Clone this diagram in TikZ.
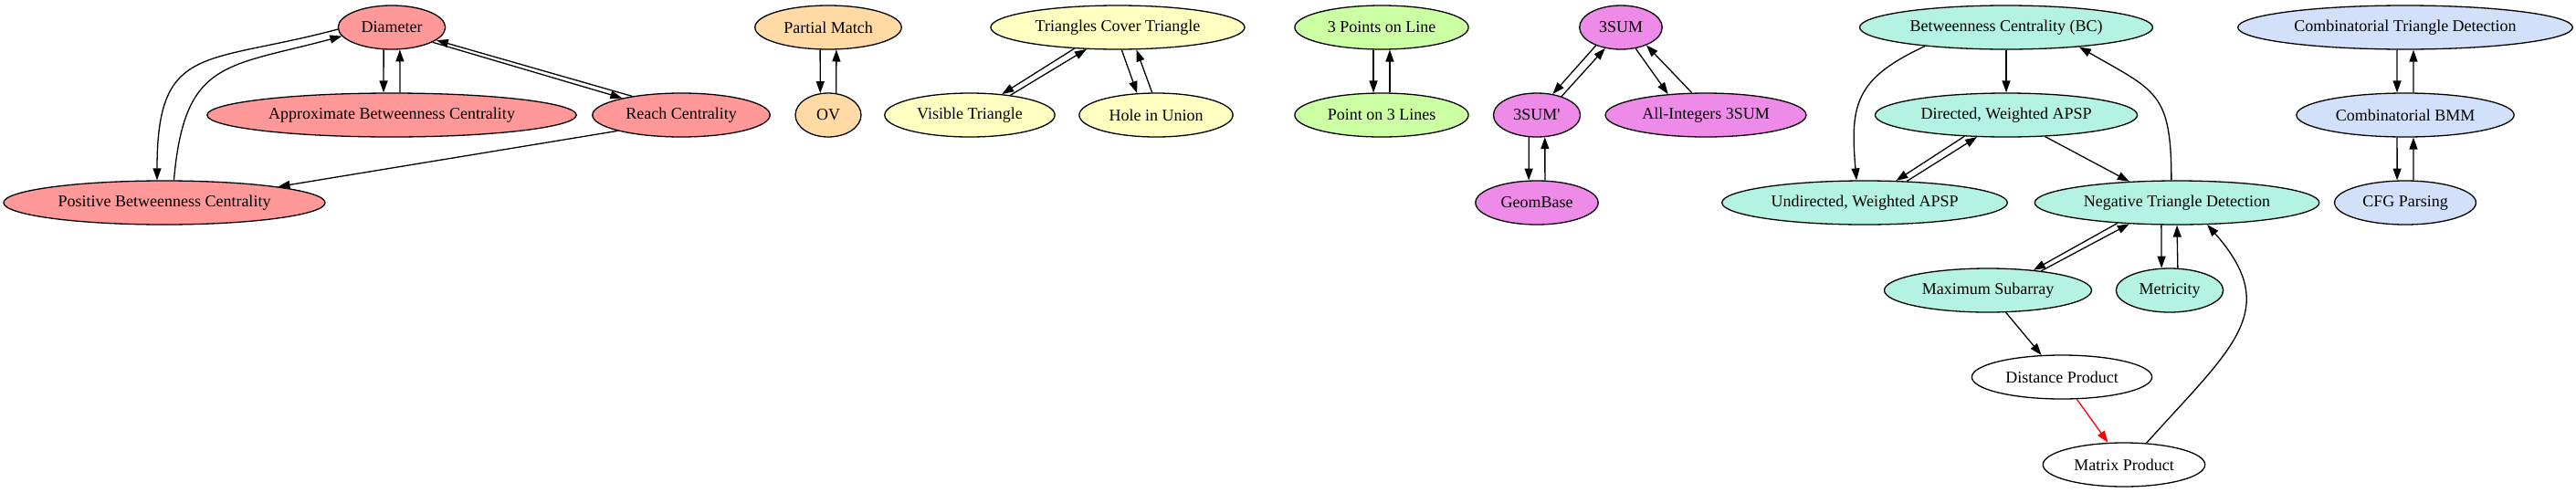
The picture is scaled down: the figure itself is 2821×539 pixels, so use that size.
\documentclass[tikz,border=0pt]{standalone}
\usepackage{fontspec}
\setmainfont{Liberation Serif}
\usetikzlibrary{shapes.geometric,arrows.meta}

\definecolor{diamcol}{HTML}{FF9999}
\definecolor{ovcol}{HTML}{FFDAA5}
\definecolor{tricol}{HTML}{FFFFC2}
\definecolor{linecol}{HTML}{CCFFA3}
\definecolor{sumcol}{HTML}{EE8AE8}
\definecolor{apspcol}{HTML}{B4F2E1}
\definecolor{bmmcol}{HTML}{D2E0FA}

\tikzset{
  prob/.style={ellipse, draw, line width=1.3pt, minimum width=72pt, minimum height=48pt,
    inner xsep=8pt, inner ysep=3pt, font=\fontsize{18}{20}\selectfont},
  diamnode/.style={prob, fill=diamcol},
  ovnode/.style={prob, fill=ovcol},
  trinode/.style={prob, fill=tricol},
  linenode/.style={prob, fill=linecol},
  sumnode/.style={prob, fill=sumcol},
  apspnode/.style={prob, fill=apspcol},
  bmmnode/.style={prob, fill=bmmcol},
  plainnode/.style={prob, fill=white},
  arr/.style={-{Triangle[length=13pt,width=9pt]}, line width=1.3pt},
  redarr/.style={arr, draw=red}
}

\begin{document}
\begin{tikzpicture}[x=1pt,y=-1pt]
\useasboundingbox (0,0) rectangle (2821,539);

%NODES
% diameter group
\node[diamnode] (diam) at (429,30) {Diameter};
\node[diamnode] (abc) at (429,126) {Approximate Betweenness Centrality};
\node[diamnode] (reach) at (746,126) {Reach Centrality};
\node[diamnode] (pbc) at (180,222) {Positive Betweenness Centrality};
% OV group
\node[ovnode] (pm) at (907,30) {Partial Match};
\node[ovnode] (ov) at (907,126) {OV};
% triangles
\node[trinode] (tct) at (1224,30) {Triangles Cover Triangle};
\node[trinode] (vt) at (1062,126) {Visible Triangle};
\node[trinode] (hiu) at (1266,126) {Hole in Union};
% points and lines
\node[linenode] (tpl) at (1513,30) {3 Points on Line};
\node[linenode] (pl3) at (1513,126) {Point on 3 Lines};
% 3SUM group
\node[sumnode] (s3) at (1775,30) {3SUM};
\node[sumnode] (s3p) at (1683,126) {3SUM\textquotesingle};
\node[sumnode] (ai3) at (1868,126) {All-Integers 3SUM};
\node[sumnode] (gb) at (1683,222) {GeomBase};
% APSP group
\node[apspnode] (bc) at (2197,30) {Betweenness Centrality (BC)};
\node[apspnode] (dwa) at (2197,126) {Directed, Weighted APSP};
\node[apspnode] (uwa) at (2042,222) {Undirected, Weighted APSP};
\node[apspnode] (ntd) at (2384,222) {Negative Triangle Detection};
\node[apspnode] (ms) at (2177,318) {Maximum Subarray};
\node[apspnode] (met) at (2376,318) {Metricity};
\node[plainnode] (dp) at (2258,413) {Distance Product};
\node[plainnode] (mp) at (2326,509) {Matrix Product};
% BMM group
\node[bmmnode] (ctd) at (2634,30) {Combinatorial Triangle Detection};
\node[bmmnode] (cbmm) at (2634,126) {Combinatorial BMM};
\node[bmmnode] (cfg) at (2634,222) {CFG Parsing};

%EDGES
% diameter
\draw[arr] (diam.250) -- (abc.110);
\draw[arr] (abc.70) -- (diam.290);
\draw[arr] (diam.340) -- (reach.164);
\draw[arr] (reach.159) -- (diam.344);
\draw[arr] (diam.182) to[out=195,in=90,looseness=1.5] (pbc.108);
\draw[arr] (pbc.67) to[out=85,in=195,looseness=1.4] (diam.190);
\draw[arr] (reach.194) -- (pbc.8);
% OV
\draw[arr] (pm.250) -- (ov.110);
\draw[arr] (ov.70) -- (pm.290);
% triangles
\draw[arr] (tct.206) -- (vt.33);
\draw[arr] (vt.26) -- (tct.215);
\draw[arr] (tct.280) -- (hiu.131);
\draw[arr] (hiu.100) -- (tct.310);
% points and lines
\draw[arr] (tpl.250) -- (pl3.110);
\draw[arr] (pl3.70) -- (tpl.290);
% 3SUM
\draw[arr] (s3.216) -- (s3p.53);
\draw[arr] (s3p.37) -- (s3.233);
\draw[arr] (s3.305) -- (ai3.151);
\draw[arr] (ai3.122) -- (s3.325);
\draw[arr] (s3p.250) -- (gb.110);
\draw[arr] (gb.70) -- (s3p.290);
% APSP
\draw[arr] (bc) -- (dwa);
\draw[arr] (bc.193) to[out=205,in=95,looseness=1.3] (uwa.110);
\draw[arr] (dwa.207) -- (uwa.35);
\draw[arr] (uwa.27) -- (dwa.217);
\draw[arr] (dwa.331) -- (ntd.156);
\draw[arr] (ntd.104) to[out=90,in=-30,looseness=1.4] (bc.345);
\draw[arr] (ntd.199) -- (ms.24);
\draw[arr] (ms.20) -- (ntd.204);
\draw[arr] (ntd.235) -- (met.110);
\draw[arr] (met.70) -- (ntd.270);
\draw[arr] (ms.309) -- (dp.133);
\draw[redarr] (dp.304) -- (mp.126);
\draw[arr] (mp.44) .. controls (2445,380) and (2500,340) .. (ntd.324);
% BMM
\draw[arr] (ctd.250) -- (cbmm.110);
\draw[arr] (cbmm.70) -- (ctd.290);
\draw[arr] (cbmm.250) -- (cfg.110);
\draw[arr] (cfg.70) -- (cbmm.290);

\end{tikzpicture}
\end{document}
